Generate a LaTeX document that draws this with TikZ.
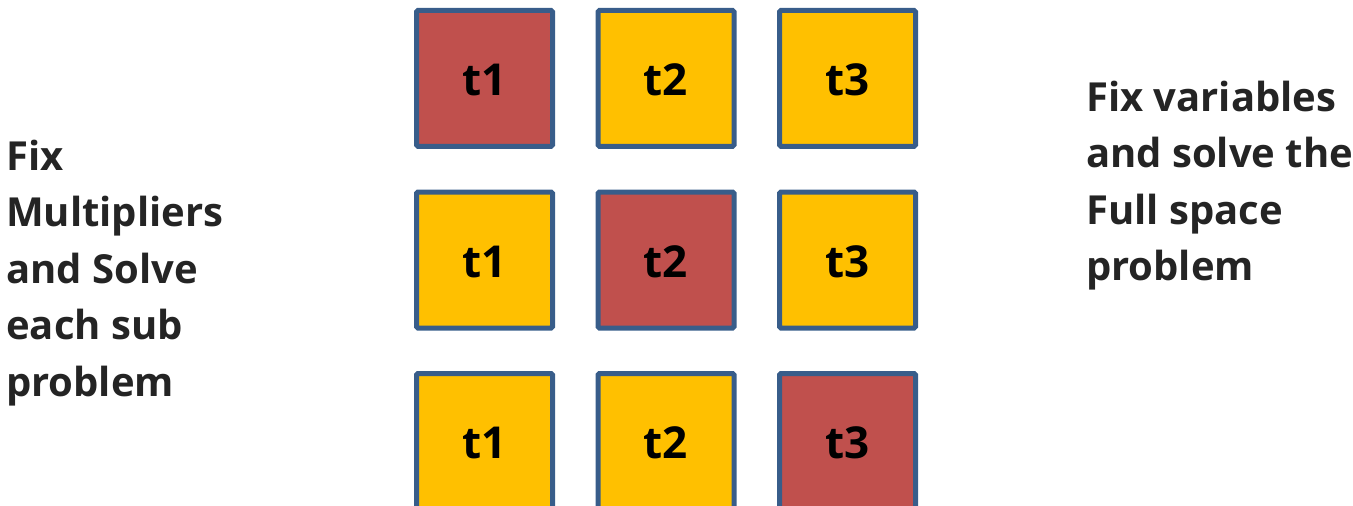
\documentclass[tikz,border=0pt]{standalone}
\usepackage{fontspec}
\setmainfont{Open Sans}
\definecolor{cellred}{HTML}{C0504D}
\definecolor{cellyel}{HTML}{FFC000}
\definecolor{cellline}{HTML}{385D8A}
\begin{document}
\begin{tikzpicture}[x=1pt,y=-1pt,
  cell/.style={draw=cellline,line width=5pt,rounded corners=1.5pt,minimum width=136pt,minimum height=136pt,inner sep=0pt},
  redcell/.style={cell,fill=cellred},
  yelcell/.style={cell,fill=cellyel},
  lbl/.style={font=\fontsize{44}{52}\selectfont\bfseries,anchor=base,inner sep=0pt},
  side/.style={font=\fontsize{40}{56.5}\selectfont\bfseries,align=left,inner sep=0pt,text=black!86}]
\useasboundingbox (0,0) rectangle (1353,506);
\begin{scope}
\clip (0,0) rectangle (1353,506);
% row 1
\node[redcell] (a1) at (484.5,78.3) {};
\node[yelcell] (a2) at (666,78.3) {};
\node[yelcell] (a3) at (847.5,78.3) {};
% row 2
\node[yelcell] (b1) at (484.5,260) {};
\node[redcell] (b2) at (666,260) {};
\node[yelcell] (b3) at (847.5,260) {};
% row 3
\node[yelcell] (c1) at (484.5,441.5) {};
\node[yelcell] (c2) at (666,441.5) {};
\node[redcell] (c3) at (847.5,441.5) {};
\end{scope}
\foreach \r/\y in {a/95,b/277,c/458.5}{
  \node[lbl] (\r1t) at (484.5,\y) {t1};
  \node[lbl] (\r2t) at (666,\y) {t2};
  \node[lbl] (\r3t) at (847.5,\y) {t3};
}
\node[side,anchor=base west] (left) at (6,396) {Fix\\Multipliers\\and Solve\\each sub\\problem};
\node[side,anchor=base west] (right) at (1086,280.5) {Fix variables\\and solve the\\Full space\\problem};
\end{tikzpicture}
\end{document}
